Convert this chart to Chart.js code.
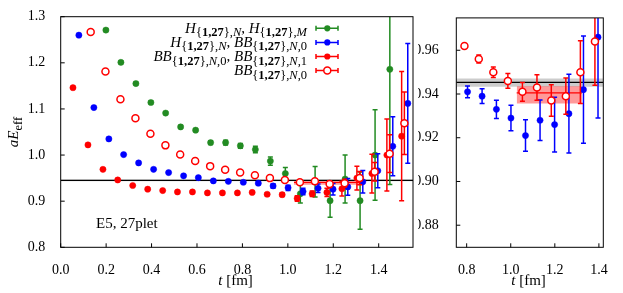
<!DOCTYPE html>
<html>
<head>
<meta charset="utf-8">
<script src="https://cdn.jsdelivr.net/npm/chart.js@4.4.1/dist/chart.umd.min.js"></script>
<style>
  html, body { margin: 0; padding: 0; background: #ffffff; }
  #wrap { position: relative; width: 623px; height: 293px; overflow: hidden; }
  canvas { position: absolute; top: 0; }
  #left { left: 0; }
  #right { left: 418px; }
</style>
</head>
<body>
<div id="wrap">
  <canvas id="left" width="418" height="293"></canvas>
  <canvas id="right" width="205" height="293"></canvas>
</div>
<script>
// values, t in fm
const tHM = [0.199, 0.265, 0.331, 0.397, 0.462, 0.528, 0.594, 0.660, 0.726, 0.791, 0.857, 0.923, 0.989, 1.055, 1.120, 1.186, 1.252, 1.318, 1.384, 1.449];
const effHM = [1.271, 1.201, 1.155, 1.114, 1.091, 1.061, 1.054, 1.027, 1.027, 1.020, 1.012, 0.987, 0.960, 0.916, 0.942, 0.901, 0.948, 0.901, 1.000, 1.186];
const errHM = [0.003, 0.003, 0.003, 0.003, 0.003, 0.003, 0.003, 0.004, 0.005, 0.005, 0.007, 0.009, 0.013, 0.020, 0.033, 0.036, 0.052, 0.062, 0.098, 0.250];

const tHBB = [0.080, 0.146, 0.212, 0.277, 0.343, 0.409, 0.475, 0.541, 0.606, 0.672, 0.738, 0.804, 0.870, 0.935, 1.001, 1.067, 1.133, 1.199, 1.264, 1.330, 1.396, 1.462, 1.528];
const effHBB = [1.260, 1.103, 1.035, 1.001, 0.983, 0.969, 0.962, 0.955, 0.951, 0.944, 0.943, 0.941, 0.939, 0.933, 0.929, 0.921, 0.928, 0.926, 0.931, 0.942, 0.966, 1.019, 1.112];
const errHBB = [0.001, 0.001, 0.001, 0.001, 0.001, 0.001, 0.001, 0.0012, 0.0015, 0.0018, 0.0022, 0.0027, 0.0034, 0.0042, 0.0058, 0.0072, 0.0093, 0.0125, 0.018, 0.0245, 0.037, 0.064, 0.13];

const tBB01 = [0.054, 0.120, 0.186, 0.251, 0.317, 0.383, 0.449, 0.514, 0.580, 0.646, 0.712, 0.778, 0.843, 0.909, 0.975, 1.041, 1.107, 1.172, 1.238, 1.304, 1.370, 1.436, 1.501];
const effBB01 = [1.146, 1.022, 0.969, 0.946, 0.934, 0.926, 0.923, 0.920, 0.920, 0.918, 0.918, 0.918, 0.919, 0.915, 0.914, 0.906, 0.916, 0.919, 0.927, 0.950, 0.960, 1.000, 1.041];
const errBB01 = [0.001, 0.001, 0.001, 0.001, 0.001, 0.001, 0.001, 0.001, 0.001, 0.002, 0.002, 0.002, 0.002, 0.003, 0.004, 0.006, 0.006, 0.009, 0.016, 0.026, 0.042, 0.078, 0.14];

const tBB = [0.132, 0.197, 0.263, 0.329, 0.395, 0.461, 0.526, 0.592, 0.658, 0.724, 0.790, 0.855, 0.921, 0.987, 1.053, 1.119, 1.184, 1.250, 1.316, 1.382, 1.448, 1.513];
const effBB = [1.267, 1.181, 1.121, 1.080, 1.046, 1.021, 1.001, 0.987, 0.976, 0.968, 0.962, 0.956, 0.950, 0.946, 0.941, 0.943, 0.937, 0.939, 0.950, 0.964, 1.003, 1.069];
const errBB = [0.001, 0.001, 0.001, 0.001, 0.001, 0.001, 0.001, 0.001, 0.001, 0.001, 0.001, 0.0018, 0.0024, 0.0034, 0.0043, 0.0058, 0.0072, 0.0083, 0.0144, 0.020, 0.041, 0.068];

// plateau result and fit
const refLevel = 0.9453;
const refBand = [0.9433, 0.9471];
const fitT = [1.027, 1.323];
const fitLevel = 0.9405;
const fitBand = [0.9357, 0.9435];

// axes
const leftX = [0, 1.551];
const leftY = [0.8, 1.3];
const rightX = [0.753, 1.42];
const rightY = [0.8699, 0.9748];
const leftXTicks = [0, 0.2, 0.4, 0.6, 0.8, 1.0, 1.2, 1.4];
const leftYTicks = [0.8, 0.9, 1.0, 1.1, 1.2, 1.3];
const rightXTicks = [0.8, 1.0, 1.2, 1.4];
const rightYTicks = [0.88, 0.90, 0.92, 0.94, 0.96];

const GREEN = "#228b22";
const BLUE = "#0000ff";
const RED = "#ff0000";
const SERIF = "\"Liberation Serif\", \"DejaVu Serif\", serif";

// legend text: [text, kind] kind i=italic, r=roman, s=sub roman, b=sub bold, si=sub italic
const legendRows = [
  { color: GREEN, open: false, parts: [["H", "i"], ["{", "s"], ["1,27", "b"], ["},", "s"], ["N", "si"], [", ", "r"], ["H", "i"], ["{", "s"], ["1,27", "b"], ["},", "s"], ["M", "si"]] },
  { color: BLUE, open: false, parts: [["H", "i"], ["{", "s"], ["1,27", "b"], ["},", "s"], ["N", "si"], [", ", "r"], ["BB", "i"], ["{", "s"], ["1,27", "b"], ["},", "s"], ["N", "si"], [",0", "s"]] },
  { color: RED, open: false, parts: [["BB", "i"], ["{", "s"], ["1,27", "b"], ["},", "s"], ["N", "si"], [",0", "s"], [", ", "r"], ["BB", "i"], ["{", "s"], ["1,27", "b"], ["},", "s"], ["N", "si"], [",1", "s"]] },
  { color: RED, open: true, parts: [["BB", "i"], ["{", "s"], ["1,27", "b"], ["},", "s"], ["N", "si"], [",0", "s"]] }
];

const fonts = {
  i: "italic 15px " + SERIF,
  r: "15px " + SERIF,
  s: "12.5px " + SERIF,
  b: "bold 12.5px " + SERIF,
  si: "italic 12.5px " + SERIF
};

const drawRich = (ctx, parts, x, y, align) => {
  let width = 0;
  parts.forEach(([text, kind]) => {
    ctx.font = fonts[kind];
    width += ctx.measureText(text).width;
  });
  let pos = align === "right" ? x - width : x;
  ctx.textAlign = "left";
  ctx.textBaseline = "alphabetic";
  parts.forEach(([text, kind]) => {
    ctx.font = fonts[kind];
    const sub = kind === "s" || kind === "b" || kind === "si";
    ctx.fillText(text, pos, y + (sub ? 3.5 : 0));
    pos += ctx.measureText(text).width;
  });
};

const points = (ts, vs) => ts.map((t, i) => ({ x: t, y: vs[i] }));

const series = (label, ts, vs, es, color, open, order) => ({
  type: "scatter",
  label,
  data: points(ts, vs),
  errors: es,
  borderColor: color,
  backgroundColor: open ? "#ffffff" : color,
  pointRadius: open ? 3.5 : 3.1,
  pointBorderWidth: open ? 1.5 : 0.5,
  pointHoverRadius: 0,
  order
});

const hline = (level, xs, color, width, order, fill, bg) => ({
  type: "line",
  data: [{ x: xs[0], y: level }, { x: xs[1], y: level }],
  borderColor: color,
  borderWidth: width,
  backgroundColor: bg || "transparent",
  fill: fill || false,
  pointRadius: 0,
  order
});

// the zoomed panel only repeats the blue and open red series
const buildDatasets = (xs, full) => [
  full ? series("HM", tHM, effHM, errHM, GREEN, false, 4) : null,
  series("HBB", tHBB, effHBB, errHBB, BLUE, false, 3),
  full ? series("BB01", tBB01, effBB01, errBB01, RED, false, 2) : null,
  series("BB", tBB, effBB, errBB, RED, true, 1),
  hline(refBand[1], xs, "transparent", 0, 20, "+1", "rgba(0,0,0,0.2)"),
  hline(refBand[0], xs, "transparent", 0, 21),
  hline(fitBand[1], fitT, "transparent", 0, 12, "+1", "rgba(255,0,0,0.4)"),
  hline(fitBand[0], fitT, "transparent", 0, 13),
  hline(fitLevel, fitT, RED, 1.2, 11),
  hline(refLevel, xs, "#000000", 1.2, 10)
].filter(Boolean);

const errorBars = {
  id: "errorBars",
  beforeDatasetDraw(chart, args) {
    const ds = chart.data.datasets[args.index];
    if (!ds.errors) return;
    const { ctx, chartArea: a, scales } = chart;
    ctx.save();
    ctx.beginPath();
    ctx.rect(a.left, a.top, a.right - a.left, a.bottom - a.top);
    ctx.clip();
    ctx.strokeStyle = ds.borderColor;
    ctx.lineWidth = 1.5;
    ds.data.forEach((p, i) => {
      const x = scales.x.getPixelForValue(p.x);
      const lo = scales.y.getPixelForValue(p.y - ds.errors[i]);
      const hi = scales.y.getPixelForValue(p.y + ds.errors[i]);
      ctx.beginPath();
      ctx.moveTo(x, lo); ctx.lineTo(x, hi);
      ctx.moveTo(x - 2.5, lo); ctx.lineTo(x + 2.5, lo);
      ctx.moveTo(x - 2.5, hi); ctx.lineTo(x + 2.5, hi);
      ctx.stroke();
    });
    ctx.restore();
  }
};

// gnuplot-like box with inward ticks
const frame = {
  id: "frame",
  afterDatasetsDraw(chart, args, opts) {
    const { ctx, chartArea: a, scales } = chart;
    ctx.save();
    ctx.strokeStyle = "#000000";
    ctx.lineWidth = 1;
    ctx.strokeRect(a.left, a.top, a.right - a.left, a.bottom - a.top);
    ctx.beginPath();
    opts.xTicks.forEach((v) => {
      const x = scales.x.getPixelForValue(v);
      ctx.moveTo(x, a.bottom); ctx.lineTo(x, a.bottom - 4);
    });
    opts.yTicks.forEach((v) => {
      const y = scales.y.getPixelForValue(v);
      ctx.moveTo(a.left, y); ctx.lineTo(a.left + 4, y);
    });
    ctx.stroke();
    ctx.restore();
  },
  afterDraw(chart) {
    const { ctx, chartArea: a } = chart;
    ctx.save();
    ctx.fillStyle = "#000000";
    drawRich(ctx, [["t", "i"], [" [fm]", "r"]], (a.left + a.right) / 2 + 16, 285, "right");
    ctx.restore();
  }
};

const legendAndLabels = {
  id: "legendAndLabels",
  afterDraw(chart) {
    const { ctx, chartArea: a } = chart;
    ctx.save();
    legendRows.forEach((row, i) => {
      const y = 28.3 + i * 14.1;
      ctx.fillStyle = "#000000";
      drawRich(ctx, row.parts, 307, y + 4.5, "right");
      ctx.strokeStyle = row.color;
      ctx.lineWidth = 1.5;
      ctx.beginPath();
      ctx.moveTo(316, y); ctx.lineTo(338, y);
      ctx.moveTo(316, y - 2.5); ctx.lineTo(316, y + 2.5);
      ctx.moveTo(338, y - 2.5); ctx.lineTo(338, y + 2.5);
      ctx.stroke();
      ctx.beginPath();
      ctx.arc(327.3, y, row.open ? 3.5 : 3.1, 0, Math.PI * 2);
      ctx.fillStyle = row.open ? "#ffffff" : row.color;
      ctx.fill();
      if (row.open) ctx.stroke();
    });
    ctx.fillStyle = "#000000";
    ctx.font = "15px " + SERIF;
    ctx.textAlign = "left";
    ctx.fillText("E5, 27plet", 96, 228);
    ctx.translate(18, (a.top + a.bottom) / 2);
    ctx.rotate(-Math.PI / 2);
    const yTitle = [["aE", "i"], ["eff", "s"]];
    let w = 0;
    yTitle.forEach(([t, k]) => { ctx.font = fonts[k]; w += ctx.measureText(t).width; });
    drawRich(ctx, yTitle, -w / 2, 0, "left");
    ctx.restore();
  }
};

const axis = (range, ticks, digits, size, padding) => ({
  type: "linear",
  min: range[0],
  max: range[1],
  afterBuildTicks: (scale) => { scale.ticks = ticks.map((v) => ({ value: v })); },
  afterFit: (scale) => {
    if (scale.isHorizontal()) scale.height = size; else scale.width = size;
  },
  grid: { display: false },
  border: { display: false },
  ticks: {
    color: "#000000",
    font: { family: SERIF, size: 14 },
    padding,
    maxRotation: 0,
    autoSkip: false,
    callback: (value) => Number(value).toFixed(digits)
  }
});

const makeChart = (id, xs, ys, xTicks, yTicks, yDigits, yWidth, padding, full, extra) =>
  new Chart(document.getElementById(id), {
    type: "scatter",
    data: { datasets: buildDatasets(xs, full) },
    options: {
      responsive: false,
      animation: false,
      devicePixelRatio: 1,
      layout: { padding },
      plugins: {
        legend: { display: false },
        tooltip: { enabled: false },
        frame: { xTicks, yTicks }
      },
      scales: {
        x: axis(xs, xTicks, 1, 45.7, 7),
        y: axis(ys, yTicks, yDigits, yWidth, yDigits === 1 ? 7.5 : 9.5)
      }
    },
    plugins: [errorBars, frame].concat(extra)
  });

makeChart("left", leftX, leftY, leftXTicks, leftYTicks, 1, 60.7, { top: 16.7, right: 3.7, left: 0, bottom: 0 }, true, [legendAndLabels]);
makeChart("right", rightX, rightY, rightXTicks, rightYTicks, 2, 38.3, { top: 16.7, right: 19.7, left: 0, bottom: 0 }, false, []);
</script>
</body>
</html>
